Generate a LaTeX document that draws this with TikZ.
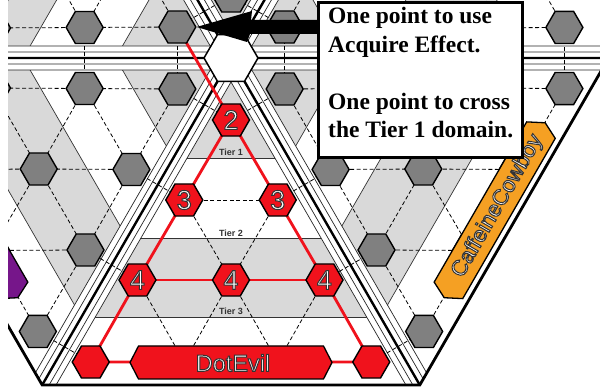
\documentclass[tikz,border=0pt]{standalone}
\usepackage{fontspec}
\setmainfont{Liberation Serif}
\setsansfont{Liberation Sans}
\usetikzlibrary{calc,shapes.geometric}
\definecolor{bandgray}{RGB}{217,217,217}
\definecolor{hexgray}{RGB}{128,128,128}
\definecolor{pathred}{RGB}{240,18,28}
\definecolor{cowboy}{RGB}{245,160,35}
\definecolor{evilpurple}{RGB}{118,22,138}
\newcommand{\outl}[1]{\textcolor{white}{\special{pdf:literal direct 2 Tr 1 w 0.2 G}#1\special{pdf:literal direct 0 Tr}}}
\begin{document}
\begin{tikzpicture}[x=1pt,y=-1pt,
  hexbase/.style={regular polygon, regular polygon sides=6, minimum size=37pt, inner sep=0pt, draw=black, line width=1.4pt},
  hexg/.style={hexbase, fill=hexgray},
  hexr/.style={hexbase, fill=pathred, font=\sffamily\fontsize{27}{27}\selectfont},
  conn/.style={line width=0.8pt, dash pattern=on 4pt off 2.5pt, draw=black},
  tierline/.style={line width=0.7pt, draw=black!80},
  stripline/.style={line width=0.7pt, draw=black!85},
  borderline/.style={line width=2.4pt, draw=black},
  redpath/.style={line width=2.8pt, draw=pathred, line join=round},
  banner/.style={draw=black, line width=1.3pt},
  tierlabel/.style={font=\sffamily\bfseries\fontsize{9}{9}\selectfont, text=black!80, inner sep=0pt},
  boxtext/.style={font=\bfseries\fontsize{23.5}{28}\selectfont, anchor=base west, inner sep=0pt},
]
\useasboundingbox (0,0) rectangle (600,387);
\coordinate (C) at (231,58);

% hex centre coordinates for the six domains
\foreach \k [evaluate=\k as \ang using 60*\k] in {0,...,5} {
  \begin{scope}[rotate around={\ang:(C)}]
    \foreach \r/\d in {1/62,2/142,3/222,4/304} {
      \foreach \j in {1,...,\r} {
        \pgfmathsetmacro\t{(\j-(\r+1)/2)*93.5}
        \coordinate (h\k-\r-\j) at ({231+\t},{58+\d});
      }
    }
  \end{scope}
}

\begin{scope}
\clip (8,-2) rectangle (602,389);
\clip (608.6,58) -- (419.8,385) -- (42.2,385) -- (-146.6,58) -- (42.2,-269) -- (419.8,-269) -- cycle;
% bands
\foreach \k [evaluate=\k as \ang using 60*\k] in {0,...,5} {
  \begin{scope}[rotate around={\ang:(C)}]
    \clip (231,58) -- (42.2,385) -- (419.8,385) -- cycle;
    \fill[bandgray] (0,-60) rectangle (650,158);
    \fill[white] (0,158) rectangle (650,238);
    \fill[bandgray] (0,238) rectangle (650,317);
    \fill[white] (0,317) rectangle (650,430);
  \end{scope}
  \begin{scope}[rotate around={\ang:(C)}]
    \draw[tierline] (173.3,158) -- (288.7,158);
    \draw[tierline] (127.1,238) -- (334.9,238);
    \draw[tierline] (81.5,317) -- (380.5,317);
  \end{scope}
}
% border strips
\foreach \k [evaluate=\k as \ang using 60*\k] in {0,...,5} {
  \begin{scope}[rotate around={\ang:(C)}]
    \fill[white] (241.4,64) -- (31.4,427.7) -- (10.6,415.7) -- (220.6,52) -- cycle;
    \draw[stripline] (241.4,64) -- (31.4,427.7);
    \draw[stripline] (220.6,52) -- (10.6,415.7);
    \draw[stripline] (236.2,61) -- (26.2,424.7);
    \draw[stripline] (225.8,55) -- (15.8,418.7);
    \draw[borderline] (231,58) -- (21,421.7);
  \end{scope}
}
% dashed links between spaces
\foreach \k in {0,...,5} {
  \pgfmathtruncatemacro\km{mod(\k+5,6)}
  \foreach \r in {1,...,4} {
    \draw[conn] (h\k-\r-1) -- (h\km-\r-\r);
  }
  \foreach \r in {2,3,4} {
    \pgfmathtruncatemacro\rm{\r-1}
    \foreach \j in {1,...,\rm} {
      \pgfmathtruncatemacro\jn{\j+1}
      \draw[conn] (h\k-\r-\j) -- (h\k-\r-\jn);
    }
  }
  \foreach \r in {1,2,3} {
    \pgfmathtruncatemacro\rn{\r+1}
    \foreach \j in {1,...,\r} {
      \pgfmathtruncatemacro\jn{\j+1}
      \draw[conn] (h\k-\r-\j) -- (h\k-\rn-\j);
      \draw[conn] (h\k-\r-\j) -- (h\k-\rn-\jn);
    }
  }
}
% red path
\draw[redpath] (h4-1-1) -- (h0-1-1);
\draw[redpath] (h0-1-1) -- (h0-2-1) -- (h0-3-1) -- (h0-4-1) -- (h0-4-4) -- (h0-3-3) -- (h0-2-2) -- cycle;
\draw[redpath] (h0-3-1) -- (h0-3-3);
% gray spaces
\foreach \k in {1,...,5} {
  \foreach \r in {1,...,4} {
    \foreach \j in {1,...,\r} {
      \node[hexg] (g\k-\r-\j) at (h\k-\r-\j) {};
    }
  }
}
% red spaces
\node[hexr] (g0-1-1) at (h0-1-1) {\outl{2}};
\node[hexr] (g0-2-1) at (h0-2-1) {\outl{3}};
\node[hexr] (g0-2-2) at (h0-2-2) {\outl{3}};
\node[hexr] (g0-3-1) at (h0-3-1) {\outl{4}};
\node[hexr] (g0-3-2) at (h0-3-2) {\outl{4}};
\node[hexr] (g0-3-3) at (h0-3-3) {\outl{4}};
\node[hexr] (g0-4-1) at (h0-4-1) {};
\node[hexr] (g0-4-4) at (h0-4-4) {};
% centre
\node[hexbase, fill=white, minimum size=54pt, line width=1.5pt] (centre) at (C) {};
% banners
\fill[pathred, banner] (130,362.5) -- (138.5,346) -- (323.5,346) -- (332,362.5) -- (323.5,379) -- (138.5,379) -- cycle;
\node[font=\sffamily\fontsize{23.5}{23.5}\selectfont] (evil) at (233,363) {\outl{DotEvil}};
\begin{scope}[rotate around={60:(C)}]
  \fill[cowboy, banner] (130,362.5) -- (138.5,346) -- (323.5,346) -- (332,362.5) -- (323.5,379) -- (138.5,379) -- cycle;
  \node[font=\sffamily\fontsize{22}{22}\selectfont, rotate=60] (cowboy) at (236,363) {\outl{CaffeineCowboy}};
\end{scope}
\begin{scope}[rotate around={-60:(C)}]
  \fill[evilpurple, banner] (130,362.5) -- (138.5,346) -- (323.5,346) -- (332,362.5) -- (323.5,379) -- (138.5,379) -- cycle;
\end{scope}
% tier labels
\node[tierlabel] (tier1) at (231,152) {Tier 1};
\node[tierlabel] (tier2) at (231,233) {Tier 2};
\node[tierlabel] (tier3) at (231,311) {Tier 3};
\end{scope}
% outer edge
\begin{scope}
\clip (8,-2) rectangle (602,389);
\draw[line width=2.8pt, line join=miter] (608.6,58) -- (419.8,385) -- (42.2,385) -- (-146.6,58);
\end{scope}
% callout
\fill[black] (g4-1-1.east) -- (252,11) -- (251,20) -- (318,20) -- (318,34) -- (250,34) -- (247,42) -- cycle;
\node[draw=black, line width=3pt, fill=white, anchor=north west, minimum width=204pt, minimum height=155.5pt, inner sep=0pt] (box) at (316.5,1) {};
\node[boxtext] (l1) at (328,24) {One point to use};
\node[boxtext] (l2) at (328,53) {Acquire Effect.};
\node[boxtext] (l3) at (328,110) {One point to cross};
\node[boxtext] (l4) at (328,138) {the Tier 1 domain.};
\end{tikzpicture}
\end{document}
